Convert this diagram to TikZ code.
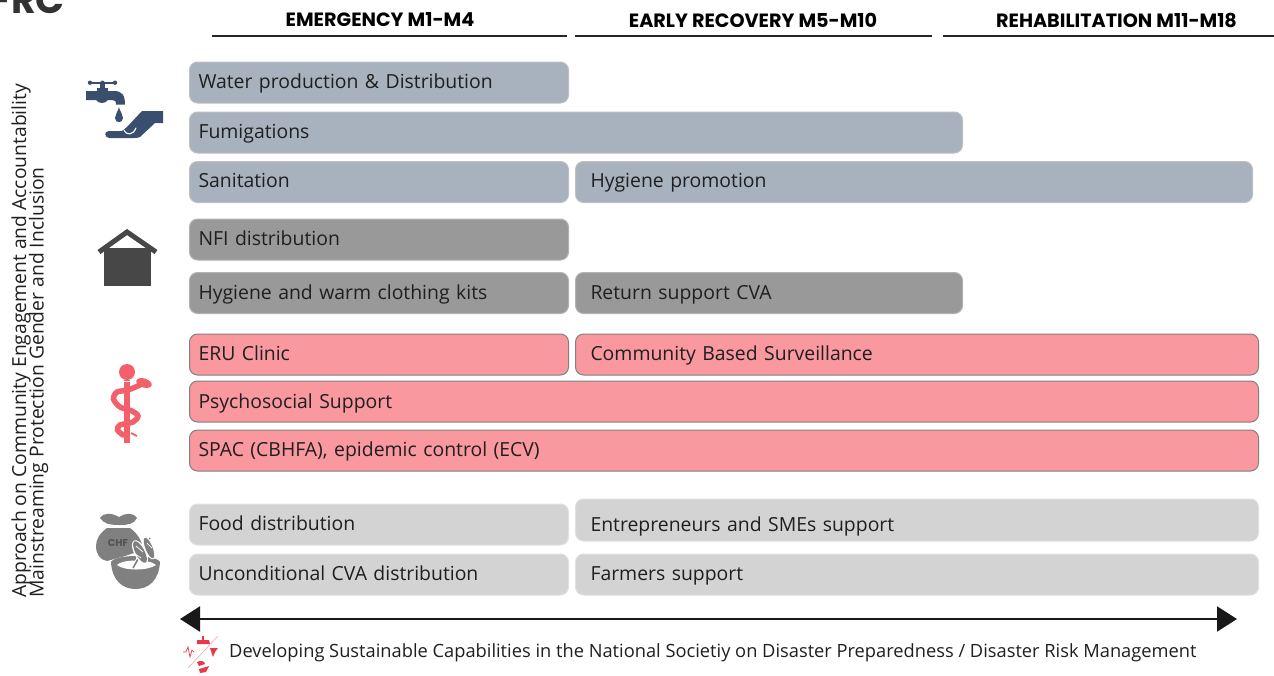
\documentclass[tikz,border=0pt]{standalone}
\usepackage{fontspec}
\usetikzlibrary{arrows.meta}
\setmainfont{Open Sans}
\newfontfamily\headfont{Poppins}
\definecolor{washfill}{HTML}{A8B2BE}
\definecolor{shelterfill}{HTML}{999999}
\definecolor{healthfill}{HTML}{F9989F}
\definecolor{livefill}{HTML}{D3D3D3}
\definecolor{washicon}{HTML}{3A4F6E}
\definecolor{healthicon}{HTML}{F4606A}
\definecolor{markred}{HTML}{E8394A}
\begin{document}
\begin{tikzpicture}[x=1pt,y=-1pt,
    activity/.style ={rounded corners=8pt, draw, line width=1pt, anchor=west, align=left, inner xsep=9pt, inner ysep=0pt, minimum height=41pt, text height=15pt, text depth=3pt, font=\fontsize{19.4}{24}\selectfont, text=black!88},
    wash/.style ={activity, fill=washfill, draw=black!25},
    shelter/.style ={activity, fill=shelterfill, draw=black!30},
    health/.style ={activity, fill=healthfill, draw=black!50},
    live/.style ={activity, fill=livefill, draw=black!12},
    phase/.style ={font=\headfont\bfseries\fontsize{19.2}{22}\selectfont},
    sidetext/.style ={rotate=90, anchor=west, inner sep=0pt, font=\fontsize{19.3}{22}\selectfont, text=black!88},
    rule/.style ={line width=1.2pt, black!85}]
   \useasboundingbox (0,0) rectangle (1274,675);
   \clip (0,0) rectangle (1274,675);

   \node[anchor=east, inner sep=0pt, font=\headfont\bfseries\fontsize{38}{42}\selectfont, text=black!80] (logo) at (65,0.5) {FRC};

   \node[phase] (emergency) at (380,20) {EMERGENCY M1-M4};
   \node[phase] (recovery) at (753,20) {EARLY RECOVERY M5-M10};
   \node[phase] (rehab) at (1116.5,20) {REHABILITATION M11-M18};
   \coordinate (e1) at (212,36);
   \coordinate (e2) at (567,36);
   \coordinate (r1) at (575,36);
   \coordinate (r2) at (932,36);
   \coordinate (h1) at (943,36);
   \coordinate (h2) at (1274,36);
   \draw[rule] (e1) to (e2);
   \draw[rule] (r1) to (r2);
   \draw[rule] (h1) to (h2);

   \node[sidetext] (approach) at (21,598) {Approach on Community Engagement and Accountability};
   \node[sidetext] (gender) at (38.5,598) {Mainstreaming Protection Gender and Inclusion};

   \node[wash, text width=361pt] (water) at (189,82.5) {Water production \& Distribution};
   \node[wash, text width=755pt] (fumig) at (189,132.5) {Fumigations};
   \node[wash, text width=361pt, text height=14pt, text depth=4pt] (sanit) at (189,182) {Sanitation};
   \node[wash, inner xsep=15pt, text width=647pt, text height=14pt, text depth=4pt] (promo) at (575,182) {Hygiene promotion};

   \node[shelter, text width=361pt] (nfi) at (189,239.5) {NFI distribution};
   \node[shelter, text width=361pt] (kits) at (189,293) {Hygiene and warm clothing kits};
   \node[shelter, inner xsep=15pt, text width=357pt] (cva) at (575,293) {Return support CVA};

   \node[health, text width=361pt] (eru) at (189,354.5) {ERU Clinic};
   \node[health, inner xsep=15pt, text width=653pt] (cbs) at (575,354.5) {Community Based Surveillance};
   \node[health, text width=1051pt, text height=16pt, text depth=2pt] (pss) at (189,401.5) {Psychosocial Support};
   \node[health, text width=1051pt] (spac) at (189,450.5) {SPAC (CBHFA), epidemic control (ECV)};

   \node[live, text width=361pt] (food) at (189,524.5) {Food distribution};
   \node[live, inner xsep=15pt, text width=653pt, minimum height=42pt, text height=23pt, text depth=0pt] (sme) at (575,520) {Entrepreneurs and SMEs support};
   \node[live, text width=361pt] (uncond) at (189,574.5) {Unconditional CVA distribution};
   \node[live, inner xsep=15pt, text width=653pt] (farm) at (575,574.5) {Farmers support};

   \coordinate (left) at (180,619);
   \coordinate (right) at (1237,619);
   \draw[line width=2.2pt, {Triangle[length=20pt,width=25pt]}-{Triangle[length=20pt,width=25pt]}, black!90] (left) to (right);

   \node[anchor=west, inner sep=0pt, font=\fontsize{18.27}{22}\selectfont, text=black!88] (capacity) at (229,652.5) {Developing Sustainable Capabilities in the National Societiy on Disaster Preparedness / Disaster Risk Management};

   % tap and hand
   \draw[washicon, line width=2pt] (90,82.7) -- (115,82.7);
   \fill[washicon] (90,82.7) circle (2.2) (102.5,82.7) circle (2.2) (115,82.7) circle (2.2);
   \fill[washicon] (100,82) rectangle (105,92);
   \fill[washicon] (97,88) rectangle (108,92);
   \fill[washicon] (86,91) -- (114,91) .. controls (122,91) and (125,95) .. (125,104.5) -- (116,104.5) .. controls (116,101) and (115,100) .. (112,100) -- (108,100) .. controls (105,104) and (99,104) .. (96,100) -- (86,100) -- cycle;
   \fill[washicon] (119,107) .. controls (120,112) and (123,114) .. (123,118) .. controls (123,123.5) and (115,123.5) .. (115,118) .. controls (115,114) and (118,112) .. (119,107) -- cycle;
   \fill[washicon] (163,111) -- (163,123) -- (155,123) -- (140,137) .. controls (138,138) and (136,138) .. (134,138) -- (109,138) .. controls (104,137) and (104,131) .. (109,131) -- (122,131) -- (127,127) -- (142,111) -- cycle;
   \draw[white, line width=1.1pt, line cap=round] (124,130) .. controls (127,136) and (133,135) .. (136,128);

   % house
   \fill[black!72] (104,248) rectangle (151,286);
   \draw[black!72, line width=5pt] (99,252) -- (127,232) -- (156,252);

   % staff and snake
   \fill[healthicon] (123.5,380) rectangle (129.5,443);
   \fill[healthicon] (127,372) circle (8);
   \draw[white, line width=1pt] (121,381) -- (133,381);
   \draw[healthicon, line width=5.5pt, line cap=round] plot[smooth] coordinates {(140,385) (128,390) (117,392) (113.5,399) (120,407) (132,411) (138,416) (133,422) (120,425) (117.5,430) (123,435)};
   \draw[healthicon, line width=1.8pt] (131,433) -- (137,436);
   \fill[healthicon, rotate around={-18:(144,383)}] (144,383) ellipse (8 and 4.5);

   % bag and bowl
   \fill[black!50] (100,518) .. controls (104,512) and (112,513) .. (119,517) .. controls (125,513) and (133,512) .. (137,518) .. controls (134,524) and (128,525) .. (120,525) .. controls (110,525) and (104,524) .. (100,518) -- cycle;
   \fill[black!50] (107,528) -- (130,528) .. controls (137,533) and (142,540) .. (143,550) -- (125,556) -- (107,561) .. controls (100,560) and (96,554) .. (96,546) .. controls (96,539) and (100,533) .. (107,528) -- cycle;
   \node[inner sep=0pt, font=\headfont\bfseries\fontsize{10}{10}\selectfont, text=black!68] (chf) at (118,543) {CHF};
   \fill[black!50] (111,562) .. controls (112,580) and (122,589) .. (135.5,589) .. controls (149,589) and (159,580) .. (160,562) .. controls (155,554) and (116,554) .. (111,562) -- cycle;
   \fill[white] (117,565) .. controls (122,559) and (150,559) .. (156,565) .. controls (148,571) and (124,571) .. (117,565) -- cycle;
   \draw[white, line width=3.5pt] (133,568) -- (150,537);
   \draw[black!50, line width=1.6pt] (133,568) -- (150,538);
   \fill[white, rotate around={28:(140,552)}] (140,552) ellipse (6 and 13);
   \fill[white, rotate around={22:(149,548)}] (149,548) ellipse (5 and 12);
   \fill[black!50, rotate around={28:(140,552)}] (140,552) ellipse (4.5 and 12);
   \fill[black!50, rotate around={22:(149,548)}] (149,548) ellipse (3.5 and 11);
   \draw[white, line width=.7pt] (136,546) -- (143,552) (134,553) -- (141,558) (147,543) -- (152,548);

   % small disaster mark
   \draw[markred!45, line width=.6pt] (188,668) -- (218,636);
   \draw[markred, line width=.7pt] (183,652) -- (186,652) -- (188,647) -- (190,657) -- (192,650) -- (194,652);
   \fill[markred] (197,640) -- (209,640) -- (210,644) -- (197,644) -- cycle;
   \fill[markred] (202,636) rectangle (204,640);
   \fill[markred] (210,648) -- (218,648) -- (215,652) -- (213,657) -- cycle;
   \fill[markred] (197,662) .. controls (200,660) and (205,661) .. (205,664) -- (199,666) -- cycle;
   \fill[markred] (199,669) -- (209,666) -- (206,672) -- (200,673) -- cycle;
\end{tikzpicture}
\end{document}
